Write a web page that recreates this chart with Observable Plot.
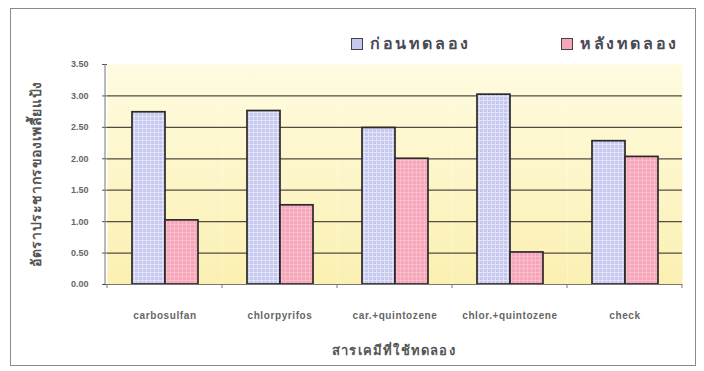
<!DOCTYPE html>
<html><head><meta charset="utf-8">
<script src="https://cdn.jsdelivr.net/npm/d3@7"></script>
<script src="https://cdn.jsdelivr.net/npm/@observablehq/plot@0.6"></script>
<style>
body{margin:0;background:#fff;}
#wrap{position:relative;width:704px;height:371px;overflow:hidden;font-family:"Liberation Sans","DejaVu Sans",sans-serif;}
#frame{position:absolute;left:10px;top:8px;width:686px;height:358px;border:1px solid #8a8a8a;box-sizing:border-box;pointer-events:none;}
.lg{position:absolute;display:flex;align-items:center;font-size:16px;font-weight:bold;letter-spacing:2.6px;color:#4a4a55;}
.sw{width:12px;height:12px;border:1.5px solid #444;margin-right:7px;box-sizing:border-box;}
svg{position:absolute;left:0;top:0;}
</style></head><body><div id="wrap"><div id="frame"></div></div>
<script>
const categories = ["carbosulfan", "chlorpyrifos", "car.+quintozene", "chlor.+quintozene", "check"];
const seriesNames = ["ก่อนทดลอง", "หลังทดลอง"];
const beforeValues = [2.74, 2.76, 2.49, 3.02, 2.28];
const afterValues = [1.02, 1.26, 2.00, 0.51, 2.03];
const yTicks = [0, 0.5, 1, 1.5, 2, 2.5, 3, 3.5];
const yTitle = "อัตราประชากรของเพลี้ยแป้ง";
const xTitle = "สารเคมีที่ใช้ทดลอง";
const seriesColors = ["#c7c8f0", "#f6a5ba"];

const data = categories.flatMap((c, i) => [
  {category: c, series: seriesNames[0], value: beforeValues[i]},
  {category: c, series: seriesNames[1], value: afterValues[i]}
]);

const plot = Plot.plot({
  width: 704, height: 371,
  marginTop: 64, marginBottom: 87, marginLeft: 105, marginRight: 21,
  style: {background: "transparent", fontFamily: "'Liberation Sans','DejaVu Sans',sans-serif", fontSize: "9px", color: "#555", overflow: "visible"},
  fx: {domain: categories, padding: 0, label: null, axis: "bottom", tickSize: 0, tickPadding: 27},
  x: {domain: seriesNames, paddingInner: 0, paddingOuter: 0.7, axis: null},
  y: {domain: [0, 3.5], ticks: yTicks, tickFormat: d3.format(".2f"), tickSize: 5, tickPadding: 14, label: null},
  color: {domain: seriesNames, range: ["url(#patBefore)", "url(#patAfter)"]},
  marks: [
    Plot.frame({fill: "url(#bgGrad)", stroke: "none"}),
    Plot.ruleY(yTicks.filter(t => t > 0 && t < 3.5), {stroke: "#4e4e42", strokeWidth: 1.2}),
    Plot.barY(data, {fx: "category", x: "series", y: "value", fill: "series", stroke: "#2a2a2a", strokeWidth: 1.7}),
    Plot.ruleY([0], {stroke: "#777", strokeWidth: 1})
  ]
});

const svg = d3.select(plot);
const defs = svg.insert("defs", ":first-child");
const g = defs.append("linearGradient").attr("id", "bgGrad").attr("x1", 0).attr("y1", 0).attr("x2", 0).attr("y2", 1);
g.append("stop").attr("offset", "0%").attr("stop-color", "#fffbe0");
g.append("stop").attr("offset", "100%").attr("stop-color", "#fbf0b2");
function pattern(id, base, line) {
  const p = defs.append("pattern").attr("id", id).attr("width", 4).attr("height", 4).attr("patternUnits", "userSpaceOnUse");
  p.append("rect").attr("width", 4).attr("height", 4).attr("fill", base);
  p.append("rect").attr("width", 4).attr("height", 1).attr("fill", line);
  p.append("rect").attr("width", 1).attr("height", 4).attr("fill", line);
}
pattern("patBefore", seriesColors[0], "#e4e4f8");
pattern("patAfter", seriesColors[1], "#f8bccb");

// axis lines and category boundary ticks from the library's scales
const fx = plot.scale("fx"), y = plot.scale("y");
const x0 = fx.range[0], y0 = y.apply(0), yTop = y.apply(3.5);
svg.append("line").attr("x1", x0).attr("x2", x0).attr("y1", yTop).attr("y2", y0).attr("stroke", "#777");
const edges = [fx.apply(categories[0])].concat(categories.map(c => fx.apply(c) + fx.bandwidth));
edges.forEach(e => svg.append("line").attr("x1", e).attr("x2", e).attr("y1", y0).attr("y2", y0 + 4).attr("stroke", "#777"));

// axis titles
svg.append("text").attr("transform", `translate(37,${(y0 + yTop) / 2}) rotate(-90)`)
  .attr("text-anchor", "middle").attr("dominant-baseline", "middle")
  .attr("font-size", 14).attr("font-weight", "bold").attr("letter-spacing", 0.6).attr("fill", "#555").text(yTitle);
svg.append("text").attr("x", (fx.range[0] + fx.range[1]) / 2).attr("y", 355)
  .attr("text-anchor", "middle").attr("font-size", 13).attr("font-weight", "bold").attr("letter-spacing", 1.2).attr("fill", "#555").text(xTitle);

svg.selectAll("text").filter(function(){ return !this.getAttribute("font-size"); })
  .attr("font-weight", "bold").attr("fill", "#666");
svg.selectAll("g[aria-label^='fx-axis'] text").attr("font-size", 10).attr("letter-spacing", 0.6);

const wrap = document.getElementById("wrap");
wrap.insertBefore(plot, wrap.firstChild);

const legendPos = [[351, 31], [561, 31]];
seriesNames.forEach((s, i) => {
  const d = document.createElement("div");
  d.className = "lg";
  d.style.left = legendPos[i][0] + "px";
  d.style.top = legendPos[i][1] + "px";
  d.innerHTML = `<div class="sw" style="background:${seriesColors[i]}"></div><span>${s}</span>`;
  wrap.appendChild(d);
});
</script></body></html>
